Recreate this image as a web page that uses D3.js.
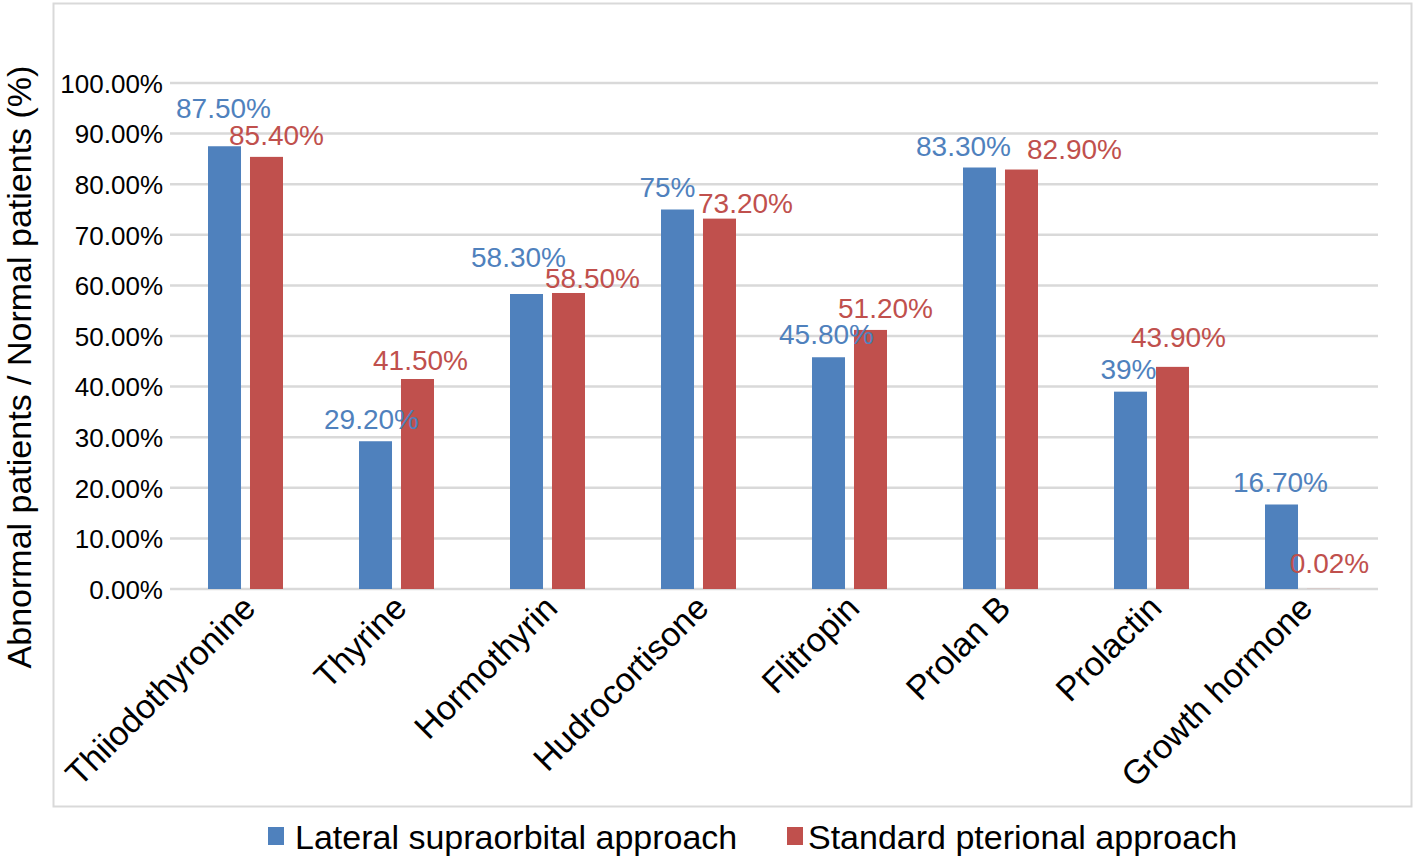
<!DOCTYPE html>
<html>
<head>
<meta charset="utf-8">
<script src="https://cdn.jsdelivr.net/npm/d3@7"></script>
<style>
  html, body { margin: 0; padding: 0; background: #fff; }
  text { font-family: "Liberation Sans", Arial, sans-serif; }
</style>
</head>
<body>
<svg id="chart" width="1418" height="857"></svg>
<script>
// ---- data ----
const categories = ["Thiiodothyronine", "Thyrine", "Hormothyrin", "Hudrocortisone", "Flitropin", "Prolan B", "Prolactin", "Growth hormone"];
const seriesNames = ["Lateral supraorbital approach", "Standard pterional approach"];
const lateralValues = [87.5, 29.2, 58.3, 75, 45.8, 83.3, 39, 16.7];
const pterionalValues = [85.4, 41.5, 58.5, 73.2, 51.2, 82.9, 43.9, 0.02];
const lateralLabels = ["87.50%", "29.20%", "58.30%", "75%", "45.80%", "83.30%", "39%", "16.70%"];
const pterionalLabels = ["85.40%", "41.50%", "58.50%", "73.20%", "51.20%", "82.90%", "43.90%", "0.02%"];
const yTicks = [0, 10, 20, 30, 40, 50, 60, 70, 80, 90, 100];
const yTickLabels = ["0.00%", "10.00%", "20.00%", "30.00%", "40.00%", "50.00%", "60.00%", "70.00%", "80.00%", "90.00%", "100.00%"];

// ---- layout / style (not data) ----
const colors = ["#4f81bd", "#c0504d"];
const labelColors = ["#4f81bd", "#c0504d"];
// manual label nudges [dx, dy] in px, as placed in the original
const lateralNudge = [[-1,-16],[-4,0],[-8,-15],[-10,-1],[-2,-1],[-16,0],[-2,-1],[-1,0]];
const pterionalNudge = [[10,0],[3,3],[24,7],[26,6],[15,0],[53,1],[6,-8],[6,-4]];

const svg = d3.select("#chart");
svg.append("rect").attr("width", 1418).attr("height", 857).attr("fill", "#fff");

// outer chart frame
svg.append("rect")
  .attr("x", 53.5).attr("y", 3.5).attr("width", 1358).attr("height", 803)
  .attr("fill", "none").attr("stroke", "#d9d9d9").attr("stroke-width", 2);

const plotLeft = 170, plotRight = 1378, plotTop = 83, plotBottom = 589;

const x0 = d3.scaleBand().domain(categories).range([plotLeft, plotRight]).paddingInner(0).paddingOuter(0);
const groupW = 75;
const x1 = d3.scaleBand().domain([0, 1]).range([0, groupW]).paddingInner(0.214).paddingOuter(0);
const y = d3.scaleLinear().domain([0, 100]).range([plotBottom, plotTop]);

// gridlines
svg.append("g").selectAll("line").data(yTicks).join("line")
  .attr("x1", plotLeft).attr("x2", plotRight)
  .attr("y1", d => y(d)).attr("y2", d => y(d))
  .attr("stroke", "#d9d9d9").attr("stroke-width", 2.5);

// y axis labels
const yAxis = d3.axisLeft(y).tickValues(yTicks).tickSize(0).tickPadding(0)
  .tickFormat((d, i) => yTickLabels[i]);
const gy = svg.append("g").attr("transform", `translate(163,0)`).call(yAxis);
gy.select(".domain").remove();
gy.selectAll("text").attr("font-size", 26).attr("fill", "#000")
  .attr("font-family", "Liberation Sans, Arial, sans-serif").attr("dy", "0.36em");

// bars
const series = [lateralValues, pterionalValues];
const labelsArr = [lateralLabels, pterionalLabels];
const nudges = [lateralNudge, pterionalNudge];
const groupOffset = (x0.bandwidth() - groupW) / 2;

series.forEach((vals, s) => {
  svg.append("g").selectAll("rect").data(vals).join("rect")
    .attr("x", (d, i) => x0(categories[i]) + groupOffset + x1(s))
    .attr("width", x1.bandwidth())
    .attr("y", d => y(d))
    .attr("height", d => plotBottom - y(d))
    .attr("fill", colors[s]);
});

// value labels
series.forEach((vals, s) => {
  svg.append("g").selectAll("text").data(vals).join("text")
    .attr("x", (d, i) => x0(categories[i]) + groupOffset + x1(s) + x1.bandwidth() / 2 + nudges[s][i][0])
    .attr("y", (d, i) => y(d) - 12 + nudges[s][i][1])
    .attr("text-anchor", "middle")
    .attr("font-size", 28)
    .attr("fill", labelColors[s])
    .text((d, i) => labelsArr[s][i]);
});

// category labels
const xAxis = d3.axisBottom(x0).tickSize(0).tickPadding(0);
const gx = svg.append("g").attr("transform", `translate(0,${plotBottom})`).call(xAxis);
gx.select(".domain").remove();
gx.selectAll("text")
  .attr("font-size", 34).attr("fill", "#000")
  .attr("font-family", "Liberation Sans, Arial, sans-serif")
  .attr("text-anchor", "end")
  .attr("dy", 0).attr("y", 0)
  .attr("transform", "translate(12,21) rotate(-45)");

// y title
svg.append("text")
  .attr("transform", "translate(31,367) rotate(-90)")
  .attr("text-anchor", "middle")
  .attr("font-size", 34)
  .attr("fill", "#000")
  .text("Abnormal patients / Normal patients (%)");

// legend
const legendItems = [{x: 268, tx: 295}, {x: 787, tx: 808}];
seriesNames.forEach((name, s) => {
  svg.append("rect").attr("x", legendItems[s].x).attr("y", 827).attr("width", 16).attr("height", 18)
    .attr("fill", colors[s]);
  svg.append("text").attr("x", legendItems[s].tx).attr("y", 849)
    .attr("font-size", 34).attr("fill", "#000").text(name);
});
</script>
</body>
</html>
